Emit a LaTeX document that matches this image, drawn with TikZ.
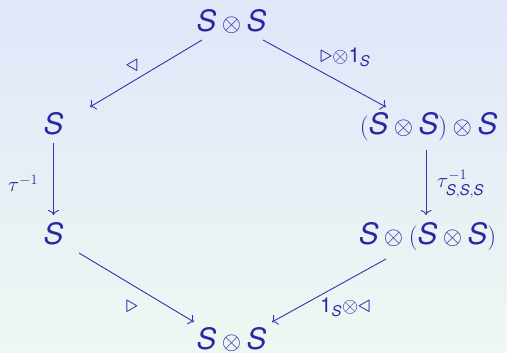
\documentclass[tikz,border=0pt]{standalone}
\usepackage{amsmath}
\usepackage{fontspec}
\setsansfont{TeX Gyre Heros}
\usetikzlibrary{calc,arrows.meta}
\definecolor{bt}{RGB}{40,40,162}
\definecolor{ba}{RGB}{51,51,178}
\definecolor{bgtop}{RGB}{225,230,249}
\definecolor{bgbot}{RGB}{238,248,242}
\newcommand{\Sv}{\text{\sffamily\itshape S}}
\newcommand{\one}{\text{\sffamily 1}}
\begin{document}
\begin{tikzpicture}[x=1pt,y=1pt,
  obj/.style={text=bt, inner sep=0pt, font=\fontsize{29.5}{35}\selectfont},
  lab/.style={text=bt, inner sep=0pt, font=\fontsize{29.5}{35}\selectfont},
  tri/.style={text=bt, inner sep=0pt, font=\fontsize{44}{48}\selectfont},
  arr/.style={draw=ba, line width=0.9pt, -{To[length=5pt,width=11pt]}}]
\shade[top color=bgtop, bottom color=bgbot] (0,0) rectangle (507,353);
\useasboundingbox (0,0) rectangle (507,353);
\node[obj, anchor=base] (top) at (231.5,321) {$\Sv\otimes\Sv$};
\node[obj, anchor=base] (L1) at (53.5,218) {$\Sv$};
\node[obj, anchor=base] (R1) at (428.5,218) {$(\Sv\otimes\Sv)\otimes\Sv$};
\node[obj, anchor=base] (L2) at (53.5,108) {$\Sv$};
\node[obj, anchor=base] (R2) at (427.5,108) {$\Sv\otimes(\Sv\otimes\Sv)$};
\node[obj, anchor=base] (bot) at (231.5,3.5) {$\Sv\otimes\Sv$};
\draw[arr] ($(top.base)+(-29.5,-8)$) -- ($(L1.base)+(36.5,28)$);
\draw[arr] ($(top.base)+(31.5,-8)$) -- ($(R1.base)+(-42.5,28)$);
\draw[arr] ($(L1.base)+(0,-8)$) -- ($(L2.base)+(0,30)$);
\draw[arr] ($(R1.base)+(-2.5,-15)$) -- ($(R2.base)+(-1.5,30)$);
\draw[arr] ($(L2.base)+(25.5,-8)$) -- ($(bot.base)+(-37.5,27.5)$);
\draw[arr] ($(R2.base)+(-41.5,-14)$) -- ($(bot.base)+(40.5,27.5)$);
\node[tri] (l1) at (132,287) {$\triangleleft$};
\node[lab, anchor=base west] (l2) at (320,290) {$\scriptstyle{\textstyle\triangleright}\otimes\one_{\Sv}$};
\node[lab, anchor=base west] (l3) at (8,161) {$\scriptstyle\tau^{-1}$};
\node[lab, anchor=base west] (l4) at (437,165) {$\scriptstyle\tau^{-1}_{\Sv,\Sv,\Sv}$};
\node[tri] (l5) at (132,46) {$\triangleright$};
\node[lab, anchor=base west] (l6) at (320,40) {$\scriptstyle\one_{\Sv}\otimes{\textstyle\triangleleft}$};
\end{tikzpicture}
\end{document}
